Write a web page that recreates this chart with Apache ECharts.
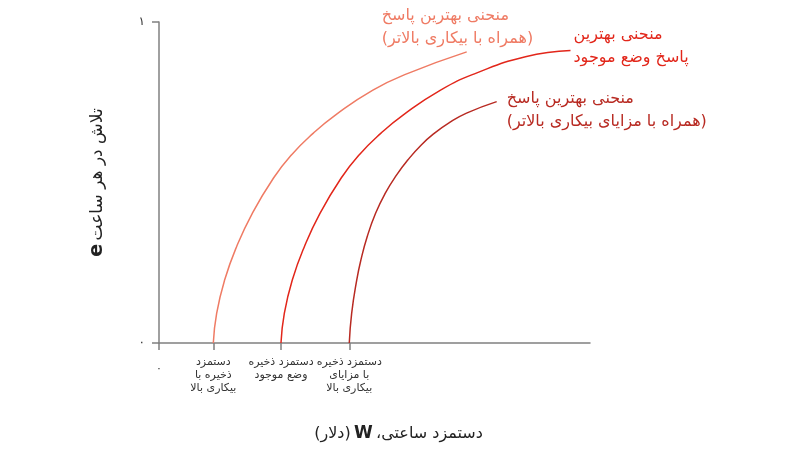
<!DOCTYPE html>
<html>
<head>
<meta charset="utf-8">
<script src="https://cdn.jsdelivr.net/npm/echarts@6/dist/echarts.min.js"></script>
<style>
  html, body { margin: 0; padding: 0; background: #fff; }
  #chart { width: 809px; height: 471px; }
</style>
</head>
<body>
<div id="chart"></div>
<script>
// wage (x) runs 0..40, effort (y) 0..1
var curveHighUnemp = [[5.04, 0], [5.35, 0.0925], [6.09, 0.196], [7.2, 0.3], [8.66, 0.404], [10.63, 0.514], [12.29, 0.586], [14.3, 0.653], [16.37, 0.71], [19.85, 0.788], [23.11, 0.84], [28.56, 0.907]];
var curveStatusQuo = [[11.32, 0], [11.63, 0.0925], [12.37, 0.196], [13.49, 0.3], [14.94, 0.404], [16.91, 0.514], [18.57, 0.586], [20.58, 0.653], [22.65, 0.71], [26.13, 0.788], [29.39, 0.84], [34.01, 0.892], [38.19, 0.911]];
var curveHighBenefit = [[17.66, 0], [17.88, 0.0925], [18.35, 0.196], [18.74, 0.259], [19.32, 0.331], [20.1, 0.404], [20.99, 0.466], [22.04, 0.523], [23.09, 0.57], [24.34, 0.617], [25.54, 0.653], [26.88, 0.685], [28.54, 0.716], [31.34, 0.752]];

var wageTicks = [0, 5.04, 11.32, 17.66];
var wageTickLabels = ['۰', 'دستمزد\nذخیره با\nبیکاری بالا', 'دستمزد ذخیره\nوضع موجود', 'دستمزد ذخیره\nبا مزایای\nبیکاری بالا'];
var effortTicks = [0, 1];
var effortTickLabels = ['۰', '١'];

var curveNames = [
    'منحنی بهترین پاسخ\n(همراه با بیکاری بالاتر)',
    'منحنی بهترین\nپاسخ وضع موجود',
    'منحنی بهترین پاسخ\n(همراه با مزایای بیکاری بالاتر)'
];
var curveColors = ['#ef7b64', '#e2261a', '#b82a22'];
// label top-left relative to the curve's last point (px)
var labelOffsets = [[-85, -48], [3, -27], [10, -14]];

var FONT = 'DejaVu Sans';
var AXIS = '#808080';

var chart = echarts.init(document.getElementById('chart'));

var curves = [curveHighUnemp, curveStatusQuo, curveHighBenefit];

var option = {
    backgroundColor: '#fff',
    animation: false,
    grid: {left: 159, top: 22, right: 219, bottom: 128},
    xAxis: {
        type: 'value',
        min: 0,
        max: 40,
        splitLine: {show: false},
        axisLine: {onZero: false, lineStyle: {color: AXIS, width: 1.5}},
        axisTick: {show: true, length: 7, customValues: wageTicks, lineStyle: {color: AXIS, width: 1.5}},
        axisLabel: {show: false},
        name: '{n|\u200F(دلار)\u200F} {b|W} {n|\u200Fدستمزد ساعتی،\u200F}',
        nameLocation: 'middle',
        nameGap: 82,
        nameTextStyle: {
            padding: [0, 0, 0, 48],
            rich: {
                n: {fontFamily: FONT, fontSize: 16, color: '#222'},
                b: {fontFamily: FONT, fontSize: 17, fontWeight: 'bold', color: '#222'}
            }
        }
    },
    yAxis: {
        type: 'value',
        min: 0,
        max: 1,
        interval: 1,
        splitLine: {show: false},
        axisLine: {show: true, onZero: false, lineStyle: {color: AXIS, width: 1.5}},
        axisTick: {show: true, length: 7, lineStyle: {color: AXIS, width: 1.5}},
        axisLabel: {
            margin: 14,
            fontFamily: FONT,
            fontSize: 12,
            color: '#333',
            formatter: function (v) {
                return effortTickLabels[effortTicks.indexOf(v)];
            }
        },
        name: '{b|e} {n|تلاش در هر ساعت}',
        nameLocation: 'middle',
        nameGap: 52,
        nameRotate: 90,
        nameTextStyle: {
            rich: {
                n: {fontFamily: FONT, fontSize: 17, color: '#222'},
                b: {fontFamily: FONT, fontSize: 19, fontWeight: 'bold', color: '#222'}
            }
        }
    },
    series: curves.map(function (c, i) {
        return {
            type: 'line',
            data: c,
            smooth: 0.5,
            showSymbol: false,
            lineStyle: {color: curveColors[i], width: 1.5},
            z: 3
        };
    })
};

chart.setOption(option);

// curve captions anchored to each curve's last point
var texts = curves.map(function (c, i) {
    var p = chart.convertToPixel({gridIndex: 0}, c[c.length - 1]);
    return {
        type: 'text',
        x: p[0] + labelOffsets[i][0],
        y: p[1] + labelOffsets[i][1],
        style: {
            text: curveNames[i],
            fill: curveColors[i],
            font: '16px "' + FONT + '"',
            lineHeight: 23,
            align: 'left',
            verticalAlign: 'top'
        }
    };
});

// wage tick labels under the axis (drawn apart so none get dropped for overlap)
wageTicks.forEach(function (v, i) {
    var p = chart.convertToPixel({gridIndex: 0}, [v, 0]);
    texts.push({
        type: 'text',
        x: p[0],
        y: p[1] + (i === 0 ? 20 : 13),
        style: {
            text: wageTickLabels[i],
            fill: '#333',
            font: '11px "' + FONT + '"',
            lineHeight: 13,
            align: 'center',
            verticalAlign: 'top'
        }
    });
});

chart.setOption({graphic: texts});
</script>
</body>
</html>
